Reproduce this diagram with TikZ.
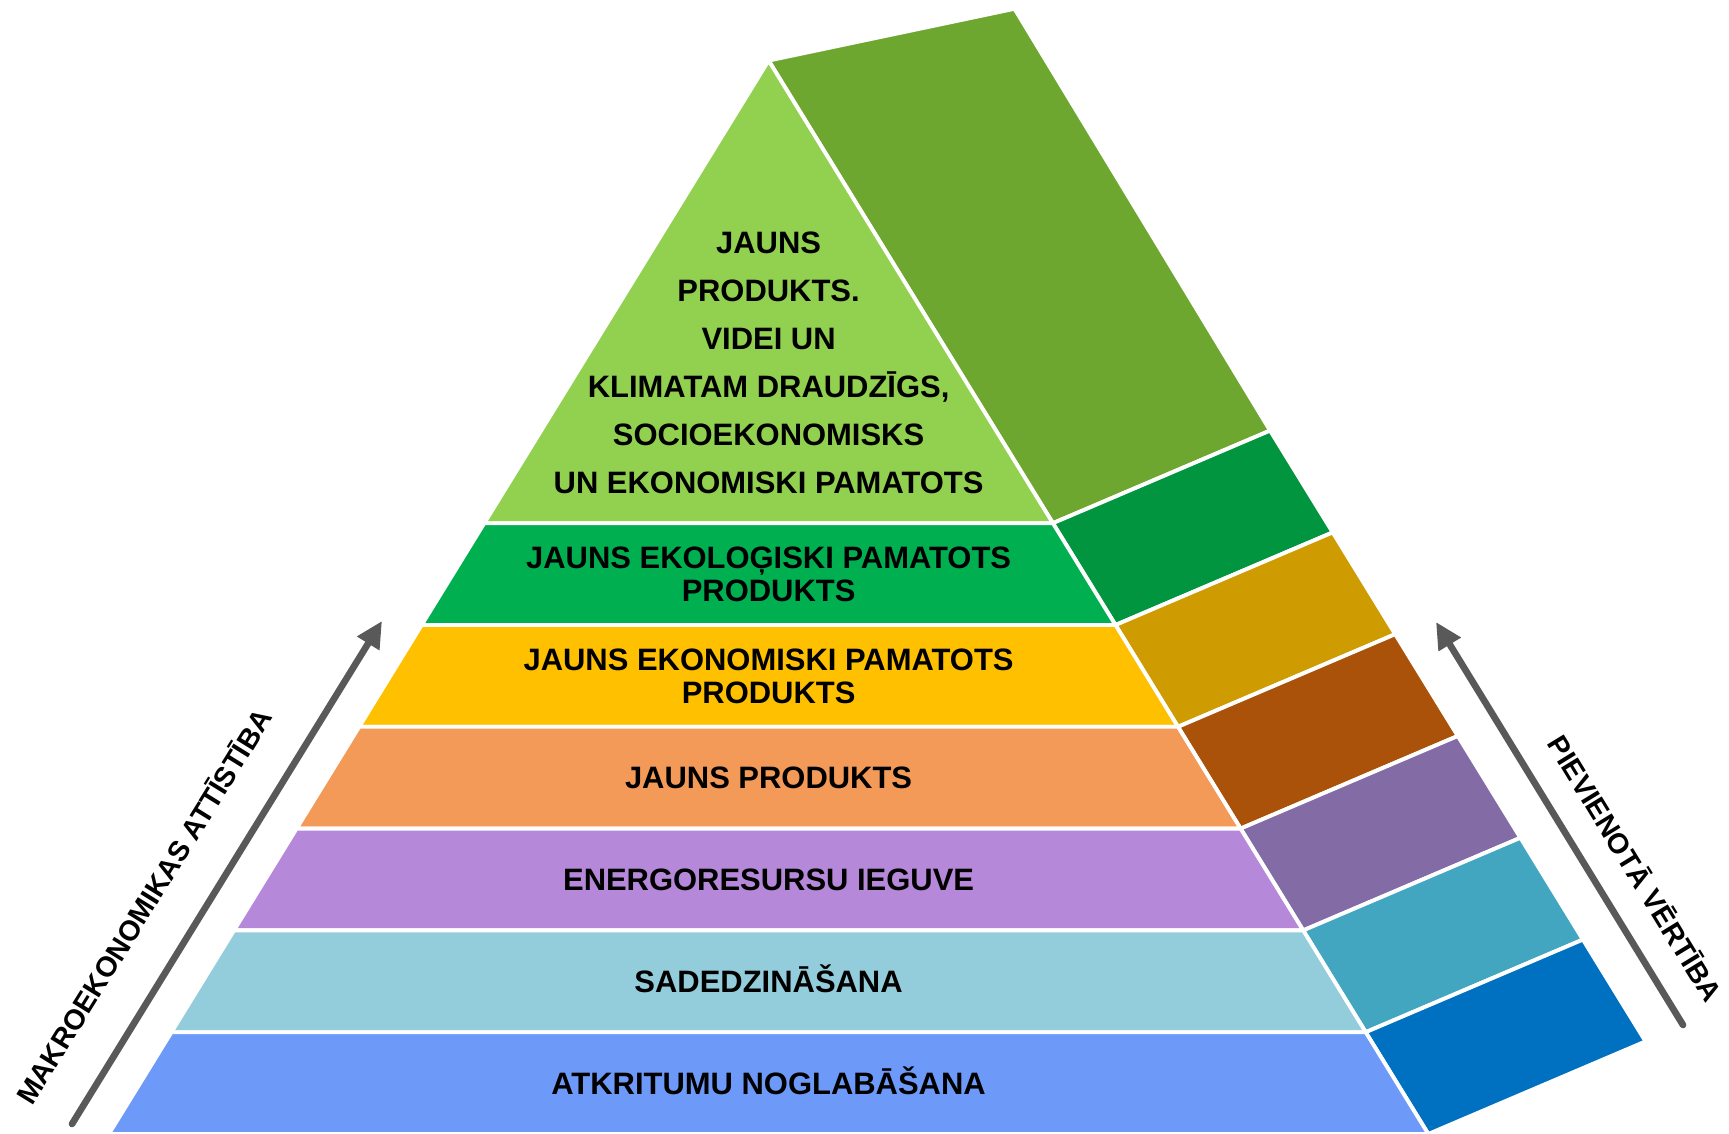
\documentclass[tikz,border=0pt]{standalone}
\usepackage{fontspec}
\setmainfont{Liberation Sans}
\usetikzlibrary{arrows.meta}
\definecolor{fA}{HTML}{92D050}\definecolor{sA}{HTML}{6DA72F}
\definecolor{fB}{HTML}{00B050}\definecolor{sB}{HTML}{00953E}
\definecolor{fC}{HTML}{FFC000}\definecolor{sC}{HTML}{CE9C00}
\definecolor{fD}{HTML}{F49A58}\definecolor{sD}{HTML}{AA520A}
\definecolor{fE}{HTML}{B688D9}\definecolor{sE}{HTML}{836BA5}
\definecolor{fF}{HTML}{93CDDB}\definecolor{sF}{HTML}{42A6C1}
\definecolor{fG}{HTML}{6D99F9}\definecolor{sG}{HTML}{0070C1}
\definecolor{arrowgray}{HTML}{595959}
\begin{document}
\begin{tikzpicture}[x=0.01cm,y=-0.01cm,
  sep/.style={draw=white, line width=1.1pt, line join=round},
  lbl/.style={font=\bfseries\fontsize{8.8}{9.4}\selectfont, align=center, text=black, inner sep=0pt},
  toplbl/.style={font=\bfseries\fontsize{8.8}{13.7}\selectfont, align=center, text=black, inner sep=0pt},
  sidelbl/.style={font=\bfseries\fontsize{8.1}{9}\selectfont, text=black, inner sep=0pt},
  axis/.style={draw=arrowgray, line width=1.9pt, line cap=round, -{Triangle[length=7.5pt,width=7pt]}}]
\useasboundingbox (0,0) rectangle (1729,1134);
% front corners
\coordinate (A)  at (768.6,60.6);
\coordinate (BT) at (1014.5,8.8);
\coordinate (L1) at (484.3,523.2)  ; \coordinate (R1) at (1052.9,523.2);
\coordinate (L2) at (421.7,625.0)  ; \coordinate (R2) at (1115.5,625.0);
\coordinate (L3) at (359.2,726.8)  ; \coordinate (R3) at (1178.0,726.8);
\coordinate (L4) at (296.6,828.6)  ; \coordinate (R4) at (1240.6,828.6);
\coordinate (L5) at (234.0,930.4)  ; \coordinate (R5) at (1303.2,930.4);
\coordinate (L6) at (171.5,1032.2) ; \coordinate (R6) at (1365.7,1032.2);
\coordinate (L7) at (108.9,1134.0) ; \coordinate (R7) at (1428.3,1134.0);
% back corners
\coordinate (B1) at (1270.1,430.6);
\coordinate (B2) at (1332.7,532.4);
\coordinate (B3) at (1395.2,634.2);
\coordinate (B4) at (1457.8,736.0);
\coordinate (B5) at (1520.4,837.8);
\coordinate (B6) at (1582.9,939.6);
\coordinate (B7) at (1645.5,1041.4);
% side faces
\fill[sA, sep] (A) -- (BT) -- (B1) -- (R1) -- cycle;
\fill[sB, sep] (R1) -- (B1) -- (B2) -- (R2) -- cycle;
\fill[sC, sep] (R2) -- (B2) -- (B3) -- (R3) -- cycle;
\fill[sD, sep] (R3) -- (B3) -- (B4) -- (R4) -- cycle;
\fill[sE, sep] (R4) -- (B4) -- (B5) -- (R5) -- cycle;
\fill[sF, sep] (R5) -- (B5) -- (B6) -- (R6) -- cycle;
\fill[sG, sep] (R6) -- (B6) -- (B7) -- (R7) -- cycle;
% front faces
\fill[fA, sep] (A) -- (L1) -- (R1) -- cycle;
\fill[fB, sep] (L1) -- (R1) -- (R2) -- (L2) -- cycle;
\fill[fC, sep] (L2) -- (R2) -- (R3) -- (L3) -- cycle;
\fill[fD, sep] (L3) -- (R3) -- (R4) -- (L4) -- cycle;
\fill[fE, sep] (L4) -- (R4) -- (R5) -- (L5) -- cycle;
\fill[fF, sep] (L5) -- (R5) -- (R6) -- (L6) -- cycle;
\fill[fG, sep] (L6) -- (R6) -- (R7) -- (L7) -- cycle;
% labels
\node[toplbl] (t1) at (768.6,362.8) {JAUNS\\PRODUKTS.\\VIDEI UN\\KLIMATAM DRAUDZĪGS,\\SOCIOEKONOMISKS\\UN EKONOMISKI PAMATOTS};
\node[lbl] (t2) at (768.6,574.1) {JAUNS EKOLOĢISKI PAMATOTS\\PRODUKTS};
\node[lbl] (t3) at (768.6,675.9) {JAUNS EKONOMISKI PAMATOTS\\PRODUKTS};
\node[lbl, anchor=base] (t4) at (768.6,788.7) {JAUNS PRODUKTS};
\node[lbl, anchor=base] (t5) at (768.6,890.5) {ENERGORESURSU IEGUVE};
\node[lbl, anchor=base] (t6) at (768.6,992.3) {SADEDZINĀŠANA};
\node[lbl, anchor=base] (t7) at (768.6,1094.1) {ATKRITUMU NOGLABĀŠANA};
% arrows
\coordinate (la0) at (72,1124);
\coordinate (la1) at (382,621);
\draw[axis] (la0) -- (la1);
\coordinate (ra0) at (1683,1025);
\coordinate (ra1) at (1436,622);
\draw[axis] (ra0) -- (ra1);
\node[sidelbl, rotate=58.2] (lt) at (143,906) {MAKROEKONOMIKAS ATTĪSTĪBA};
\node[sidelbl, rotate=-58.5] (rt) at (1636,868) {PIEVIENOTĀ VĒRTĪBA};
\end{tikzpicture}
\end{document}
